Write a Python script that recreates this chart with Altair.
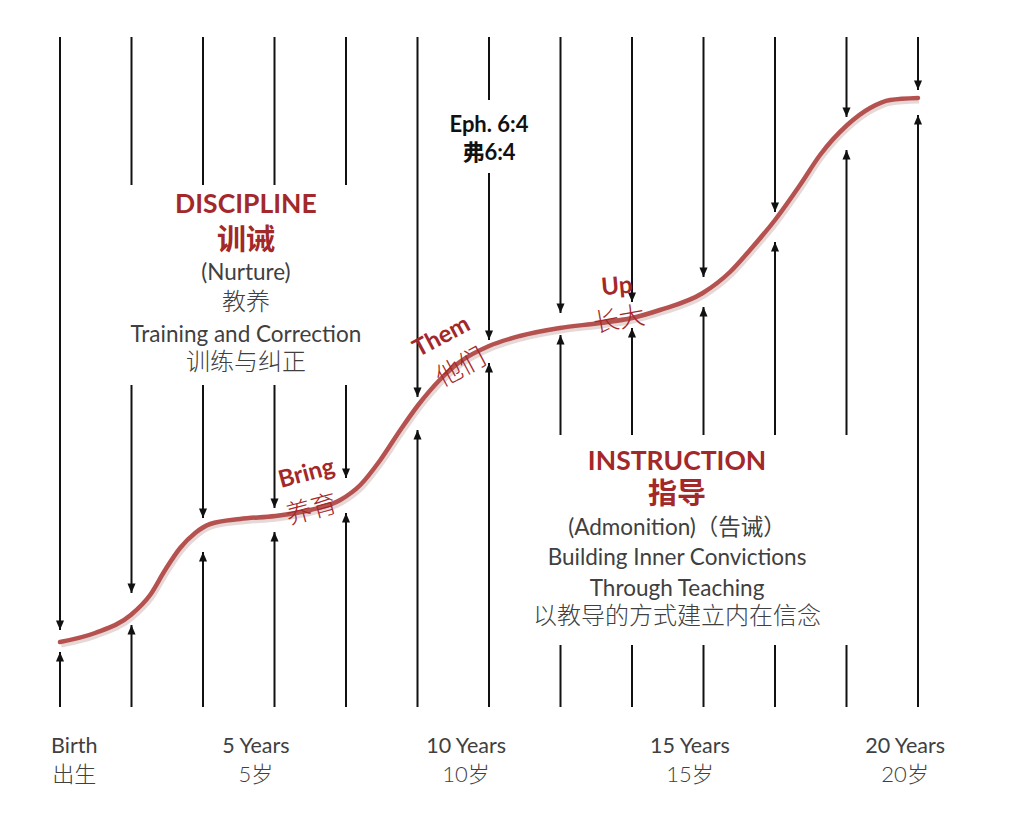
import altair as alt
import pandas as pd

# ---------------- data ----------------
# 13 stages along the age axis (stage 0 = birth, stage 12 = 20 years)
stages = list(range(13))
# growth level (arbitrary units, 0 = bottom of the arrows) where each arrow tip sits
down_tip = [77, 114, 189, 199, 229, 310, 367, 394, 405, 430, 495, 590, 617]
up_tip = [55, 82, 155, 175, 194, 277, 344, 372, 379, 400, 465, 557, 592]
top_level = 670
base_level = 0
# interruptions of the arrows where text sits
top_gap_stages = [1, 2, 3, 4]
top_gap = (522, 322)
eph_gap_stages = [6]
eph_gap = (607, 534)
bottom_gap_stages = [7, 8, 9, 10, 11]
bottom_gap = (62, 272)

# growth curve
curve_x = [0, 0.49, 0.99, 1.26, 1.47, 1.68, 1.89, 2.10, 2.52, 3.01, 3.50, 3.92,
           4.20, 4.48, 4.76, 5.01, 5.31, 5.59, 6.0, 6.43, 6.99, 7.55, 8.0, 8.39,
           8.99, 9.37, 9.65, 10.0, 10.35, 10.63, 11.01, 11.33, 11.61, 12.0]
curve_y = [65, 74, 92, 112, 137, 159, 174, 183, 188, 191, 197, 207,
           222, 247, 277, 302, 327, 345, 361, 371, 379, 384, 389, 397,
           414, 435, 457, 487, 522, 552, 582, 599, 607, 609]

# bottom labels
age_en = ["Birth", "5 Years", "10 Years", "15 Years", "20 Years"]
age_zh = ["出生", "5岁", "10岁", "15岁", "20岁"]
age_x = [0.2, 2.74, 5.68, 8.81, 11.82]

# big red headings
head_en = ["DISCIPLINE", "INSTRUCTION"]
head_en_x = [2.60, 8.63]
head_en_y = [502, 245]
head_zh = ["训诫", "指导"]
head_zh_x = [2.60, 8.63]
head_zh_y = [466, 212]

# gray body text
body_en = ["(Nurture)", "Training and Correction", "(Admonition)（告诫）",
           "Building Inner Convictions", "Through Teaching"]
body_en_x = [2.60, 2.60, 8.63, 8.63, 8.63]
body_en_y = [434, 372, 179, 149, 118]
body_zh = ["教养", "训练与纠正", "以教导的方式建立内在信念"]
body_zh_x = [2.60, 2.60, 8.63]
body_zh_y = [404, 344, 90]

# scripture reference
ref_text = ["Eph.  6:4", "弗6:4"]
ref_x = [6.0, 6.0]
ref_y = [582, 554]

# words along the curve
word_bold = ["Bring", "Them", "Up"]
word_bold_x = [3.45, 5.34, 7.79]
word_bold_y = [233, 370, 420]
word_bold_angle = [345, 332, 355]
word_zh = ["养育", "他们", "长大"]
word_zh_x = [3.52, 5.61, 7.82]
word_zh_y = [197, 339, 387]
word_zh_angle = [345, 332, 350]

# ---------------- build tables ----------------
segs = []
for i in stages:
    if i in top_gap_stages:
        segs += [(i, top_level, top_gap[0]), (i, top_gap[1], down_tip[i])]
    elif i in eph_gap_stages:
        segs += [(i, top_level, eph_gap[0]), (i, eph_gap[1], down_tip[i])]
    else:
        segs.append((i, top_level, down_tip[i]))
    if i in bottom_gap_stages:
        segs += [(i, base_level, bottom_gap[0]), (i, bottom_gap[1], up_tip[i])]
    else:
        segs.append((i, base_level, up_tip[i]))
seg_df = pd.DataFrame(segs, columns=["x", "y", "y2"])
down_df = pd.DataFrame({"x": stages, "y": down_tip})
up_df = pd.DataFrame({"x": stages, "y": up_tip})
curve_df = pd.DataFrame({"x": curve_x, "y": curve_y})

W, H = 1011, 814
xs = alt.Scale(domain=[-0.7273, 13.4126], nice=False, zero=False)
ys = alt.Scale(domain=[-115, 699], nice=False, zero=False)
X = alt.X("x:Q", scale=xs, axis=None)
Y = alt.Y("y:Q", scale=ys, axis=None)

FONT = "Lato, Noto Sans CJK SC, sans-serif"
RED = "#a3282a"
GRAY = "#404040"

rules = alt.Chart(seg_df).mark_rule(color="#111111", strokeWidth=2).encode(
    x=X, y=Y, y2="y2:Q")
heads_dn = alt.Chart(down_df).mark_point(
    shape="M0,0L-0.85,-2L0.85,-2Z", filled=True, size=90, color="#111111", opacity=1
).encode(x=X, y=Y)
heads_up = alt.Chart(up_df).mark_point(
    shape="M0,0L-0.85,2L0.85,2Z", filled=True, size=90, color="#111111", opacity=1
).encode(x=X, y=Y)

shadow = alt.Chart(curve_df).mark_line(
    color="#c9a9a8", strokeWidth=7, opacity=0.45, interpolate="monotone",
    yOffset=2, xOffset=1).encode(x=X, y=Y)
curve = alt.Chart(curve_df).mark_line(
    color="#b5524f", strokeWidth=4.5, interpolate="monotone", strokeCap="round"
).encode(x=X, y=Y)

def text_layer(texts, xv, yv, size, color, weight="normal", angles=None):
    d = {"t": texts, "x": xv, "y": yv}
    enc = dict(x=X, y=Y, text="t:N")
    if angles is not None:
        d["a"] = angles
        enc["angle"] = alt.Angle("a:Q", scale=None)
    return alt.Chart(pd.DataFrame(d)).mark_text(
        font=FONT, fontSize=size, color=color, fontWeight=weight,
        align="center", baseline="middle").encode(**enc)

layers = [
    rules, heads_dn, heads_up, shadow, curve,
    text_layer(head_en, head_en_x, head_en_y, 26.5, RED, "bold"),
    text_layer(head_zh, head_zh_x, head_zh_y, 29, RED, "bold"),
    text_layer(body_en, body_en_x, body_en_y, 22.5, GRAY),
    text_layer(body_zh, body_zh_x, body_zh_y, 24, GRAY, 300),
    text_layer(ref_text, ref_x, ref_y, 22, "#111111", "bold"),
    text_layer(word_bold, word_bold_x, word_bold_y, 24, RED, "bold", word_bold_angle),
    text_layer(word_zh, word_zh_x, word_zh_y, 26, RED, 300, word_zh_angle),
    text_layer(age_en, age_x, [-40] * 5, 21.5, GRAY),
    text_layer(age_zh, age_x, [-68] * 5, 22, GRAY, 300),
]

chart = alt.layer(*layers).properties(
    width=W, height=H, padding=0, autosize=alt.AutoSizeParams(type="none"),
    background="white"
).configure_view(stroke=None)

chart.save("out.html", embed_options={"renderer": "svg", "actions": False})
